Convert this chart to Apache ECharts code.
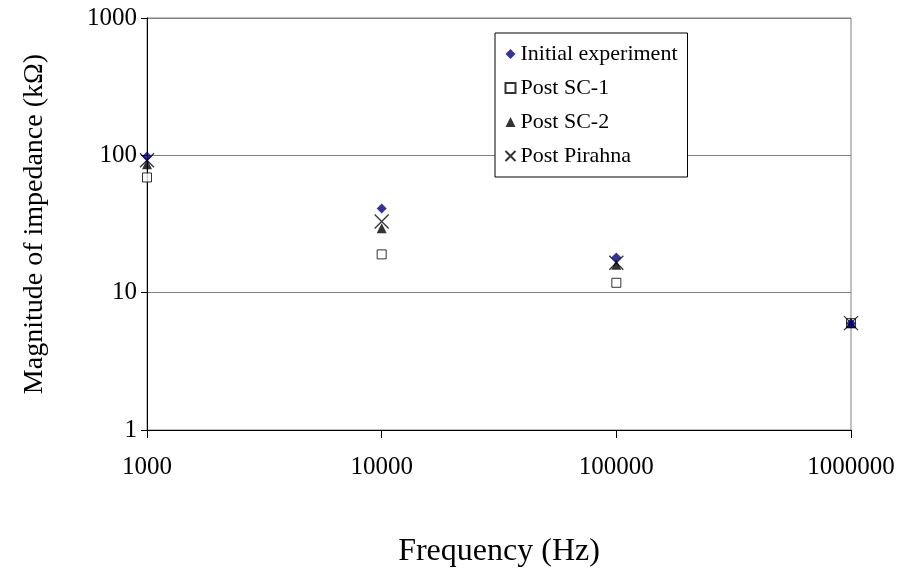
<!DOCTYPE html>
<html>
<head>
<meta charset="utf-8">
<script src="https://cdn.jsdelivr.net/npm/echarts@6/dist/echarts.min.js"></script>
<style>
  html, body { margin: 0; padding: 0; background: #fff; }
  #chart-container { width: 904px; height: 574px; }
</style>
</head>
<body>
<div id="chart-container"></div>
<script>
// frequencies (Hz)
var frequencies = [1000, 10000, 100000, 1000000];

// impedance magnitude (kOhm)
var initialExperiment = [98, 41, 18, 6];
var postSC1 = [69, 19, 11.8, 6];
var postSC2 = [86, 29.5, 16, 6];
var postPirahna = [92, 33, 16.5, 6];

var seriesNames = ['Initial experiment', 'Post SC-1', 'Post SC-2', 'Post Pirahna'];

function pairs(values) {
    return frequencies.map(function (f, i) { return [f, values[i]]; });
}

var serif = '"Liberation Serif", "Times New Roman", serif';

var dom = document.getElementById('chart-container');
var myChart = echarts.init(dom, null, { renderer: 'canvas' });

var option = {
    animation: false,
    backgroundColor: '#fff',
    textStyle: { fontFamily: serif, color: '#000' },
    grid: {
        left: 147, right: 53, top: 18, bottom: 144,
        containLabel: false,
        outerBoundsMode: 'none',
        show: true, borderColor: '#808080', borderWidth: 1
    },
    legend: {
        orient: 'vertical',
        left: 495,
        top: 33,
        padding: [9, 10, 9, 8],
        itemGap: 10,
        itemWidth: 10,
        itemHeight: 10,
        backgroundColor: '#fff',
        borderColor: '#000',
        borderWidth: 1,
        textStyle: { fontFamily: serif, fontSize: 22, color: '#000', lineHeight: 24 },
        data: seriesNames
    },
    xAxis: {
        type: 'log',
        logBase: 10,
        min: 1000,
        max: 1000000,
        name: 'Frequency (Hz)',
        nameLocation: 'middle',
        nameGap: 106,
        nameTextStyle: { fontFamily: serif, fontSize: 32, color: '#000' },
        axisLine: { lineStyle: { color: '#000', width: 1 } },
        axisTick: { length: 8, lineStyle: { color: '#000' } },
        axisLabel: {
            fontFamily: serif, fontSize: 25, color: '#000', margin: 25,
            formatter: function (v) { return String(Math.round(v)); }
        },
        splitLine: { show: false },
        minorTick: { show: false }
    },
    yAxis: {
        type: 'log',
        logBase: 10,
        min: 1,
        max: 1000,
        name: 'Magnitude of impedance (kΩ)',
        nameLocation: 'middle',
        nameGap: 98,
        nameTextStyle: { fontFamily: serif, fontSize: 28, color: '#000' },
        axisLine: { show: true, lineStyle: { color: '#000', width: 1 } },
        axisTick: { show: true, length: 6, lineStyle: { color: '#000' } },
        axisLabel: {
            fontFamily: serif, fontSize: 25, color: '#000', margin: 10,
            formatter: function (v) { return String(Math.round(v)); }
        },
        splitLine: { show: true, lineStyle: { color: '#808080', width: 1 } },
        minorTick: { show: false }
    },
    series: [
        {
            name: seriesNames[0],
            type: 'scatter',
            symbol: 'diamond',
            symbolSize: 10,
            itemStyle: { color: '#000080' },
            z: 5,
            data: pairs(initialExperiment)
        },
        {
            name: seriesNames[1],
            type: 'scatter',
            symbol: 'rect',
            symbolSize: 9,
            itemStyle: { color: '#fff', borderColor: '#000', borderWidth: 1 },
            z: 2,
            data: pairs(postSC1)
        },
        {
            name: seriesNames[2],
            type: 'scatter',
            symbol: 'triangle',
            symbolSize: 10,
            itemStyle: { color: '#000' },
            z: 3,
            data: pairs(postSC2)
        },
        {
            name: seriesNames[3],
            type: 'scatter',
            symbol: 'path://M0,0L10,10M10,0L0,10',
            symbolSize: 14,
            itemStyle: { color: 'none', borderColor: '#000', borderWidth: 1.3 },
            z: 4,
            data: pairs(postPirahna)
        }
    ]
};

myChart.setOption(option);
window.addEventListener('resize', myChart.resize);
</script>
</body>
</html>
